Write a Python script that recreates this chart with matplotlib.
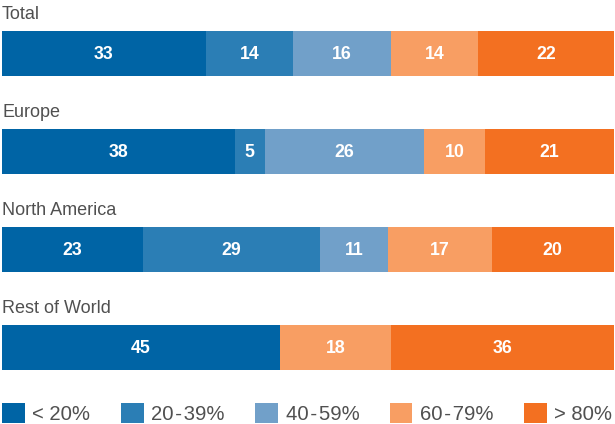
import numpy as np
import matplotlib.pyplot as plt
from matplotlib.patches import Patch

# Data
regions = ['Total', 'Europe', 'North America', 'Rest of World']
bands = ['< 20%', '20\u200a-\u200a39%', '40\u200a-\u200a59%', '60\u200a-\u200a79%', '> 80%']
colors = ['#0064A5', '#2B7EB5', '#71A0C9', '#F89E63', '#F37021']
lt20 = [33, 38, 23, 45]
b20_39 = [14, 5, 29, 0]
b40_59 = [16, 26, 11, 0]
b60_79 = [14, 10, 17, 18]
gt80 = [22, 21, 20, 36]
series = [lt20, b20_39, b40_59, b60_79, gt80]

plt.rcParams['font.family'] = ['Liberation Sans', 'DejaVu Sans']

fig = plt.figure(figsize=(6.15, 4.24), dpi=100)
W, H = 615, 424
ax = fig.add_axes([2 / W, (H - 370) / H, 612 / W, 339 / H])

# each bar is stretched to the full width
totals = np.sum(series, axis=0)
ypos = np.arange(len(regions))
left = np.zeros(len(regions))
for vals, col in zip(series, colors):
    v = np.array(vals, dtype=float)
    w = v / totals
    ax.barh(ypos, w, left=left, height=0.46, color=col, linewidth=0)
    for i in range(len(regions)):
        if v[i] > 0:
            ax.text(left[i] + w[i] / 2, ypos[i] + 0.01, f'{int(v[i])}', ha='center', va='center',
                    color='white', fontsize=12.8, fontweight='bold')
    left += w

for i, r in enumerate(regions):
    ax.text(0, i - 0.395, r, ha='left', va='center', fontsize=13, color='#505050', clip_on=False)

ax.set_xlim(0, 1)
ax.set_ylim(3.23, -0.23)
ax.axis('off')

handles = [Patch(facecolor=c, edgecolor='none') for c in colors]
leg = fig.legend(handles, bands, loc='lower left', bbox_to_anchor=(2 / W, 0), ncol=5,
                 frameon=False, fontsize=14.6, handlelength=1.12, handleheight=1.12,
                 handletextpad=0.38, columnspacing=1.5, borderpad=0, borderaxespad=0)
for t in leg.get_texts():
    t.set_color('#505050')

fig.savefig('out.png', dpi=100)
